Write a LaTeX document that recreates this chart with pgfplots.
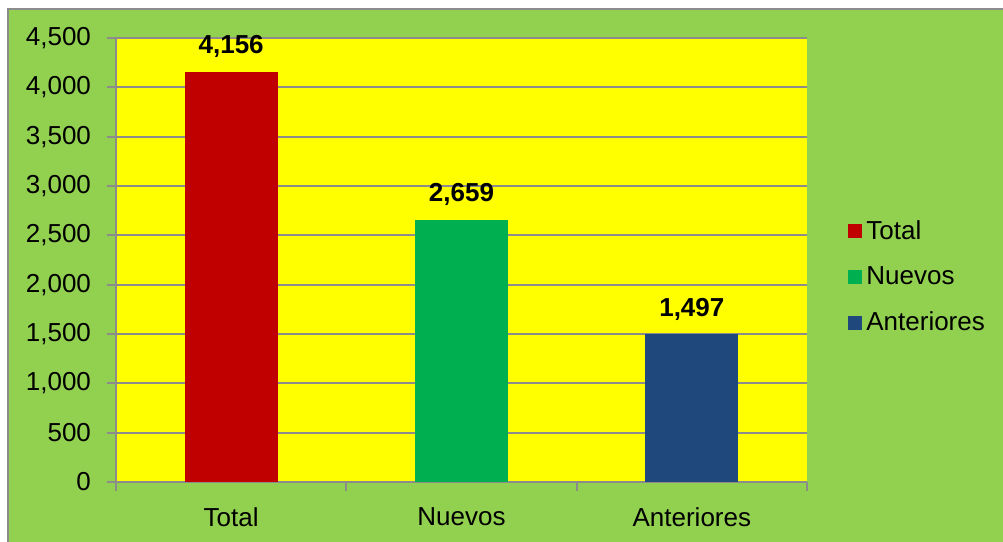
\documentclass[border=0pt]{standalone}
\usepackage{pgfplots}
\pgfplotsset{compat=1.18}
\usepackage{fontspec}
\setmainfont{Liberation Sans}
\definecolor{bggreen}{HTML}{92D050}
\definecolor{plotyellow}{HTML}{FFFF00}
\definecolor{barred}{HTML}{C00000}
\definecolor{bargreen}{HTML}{00B050}
\definecolor{barblue}{HTML}{1F497D}
\definecolor{linegray}{HTML}{8C8C8C}
\newcommand{\chartfont}{\fontsize{19.5}{23}\selectfont}
\begin{document}
\begin{tikzpicture}
\useasboundingbox (0,0) rectangle (752.25pt,406.5pt);
\fill[white] (0,0) rectangle (752.25pt,406.5pt);
\begin{scope}
\clip (0,0) rectangle (752.25pt,406.5pt);
\filldraw[fill=bggreen, draw=linegray, line width=1.5pt] (6pt,-10pt) rectangle (770pt,399.75pt);
\end{scope}
\begin{axis}[
    at={(87pt,45pt)}, anchor=south west,
    scale only axis,
    width=518.25pt, height=333pt,
    xmin=-0.5, xmax=2.5,
    ymin=0, ymax=4500,
    ytick={0,500,...,4500},
    xtick={-0.5,0.5,1.5,2.5},
    xticklabels={},
    extra x ticks={0,1,2},
    extra x tick labels={Total,Nuevos,Anteriores},
    extra x tick style={major tick length=0pt, grid=none},
    axis x line*=bottom, axis y line*=left,
    xtick pos=bottom, ytick pos=left,
    axis line style={linegray, line width=1.5pt},
    tick style={linegray, line width=1.5pt},
    tick align=outside,
    major tick length=6.75pt,
    ymajorgrids, xmajorgrids=false,
    grid style={linegray, line width=1.5pt},
    axis background/.style={fill=plotyellow},
    ybar, bar width=0.404, bar shift=0pt,
    /pgf/number format/assume math mode=true,
    /pgf/number format/1000 sep={,},
    ticklabel style={font=\chartfont, text=black},
    yticklabel style={xshift=-8.5pt},
    xticklabel style={yshift=-16pt},
    nodes near coords,
    every node near coord/.append style={font=\chartfont\bfseries, anchor=base, yshift=13.5pt, text=black},
    legend style={draw=none, fill=none, at={(1.059,0.462)}, anchor=west,
        inner sep=0pt, row sep=19pt, font=\chartfont,
        nodes={inner sep=0pt}},
    legend cell align=left,
    legend image code/.code={\fill[#1] (0pt,-5.25pt) rectangle (10.5pt,5.25pt);},
]
\addplot[draw=none, fill=barred] coordinates {(0,4156)};
\addlegendentry{\,Total}
\addplot[draw=none, fill=bargreen] coordinates {(1,2659)};
\addlegendentry{\,Nuevos}
\addplot[draw=none, fill=barblue] coordinates {(2,1497)};
\addlegendentry{\,Anteriores}
\end{axis}
\end{tikzpicture}
\end{document}
